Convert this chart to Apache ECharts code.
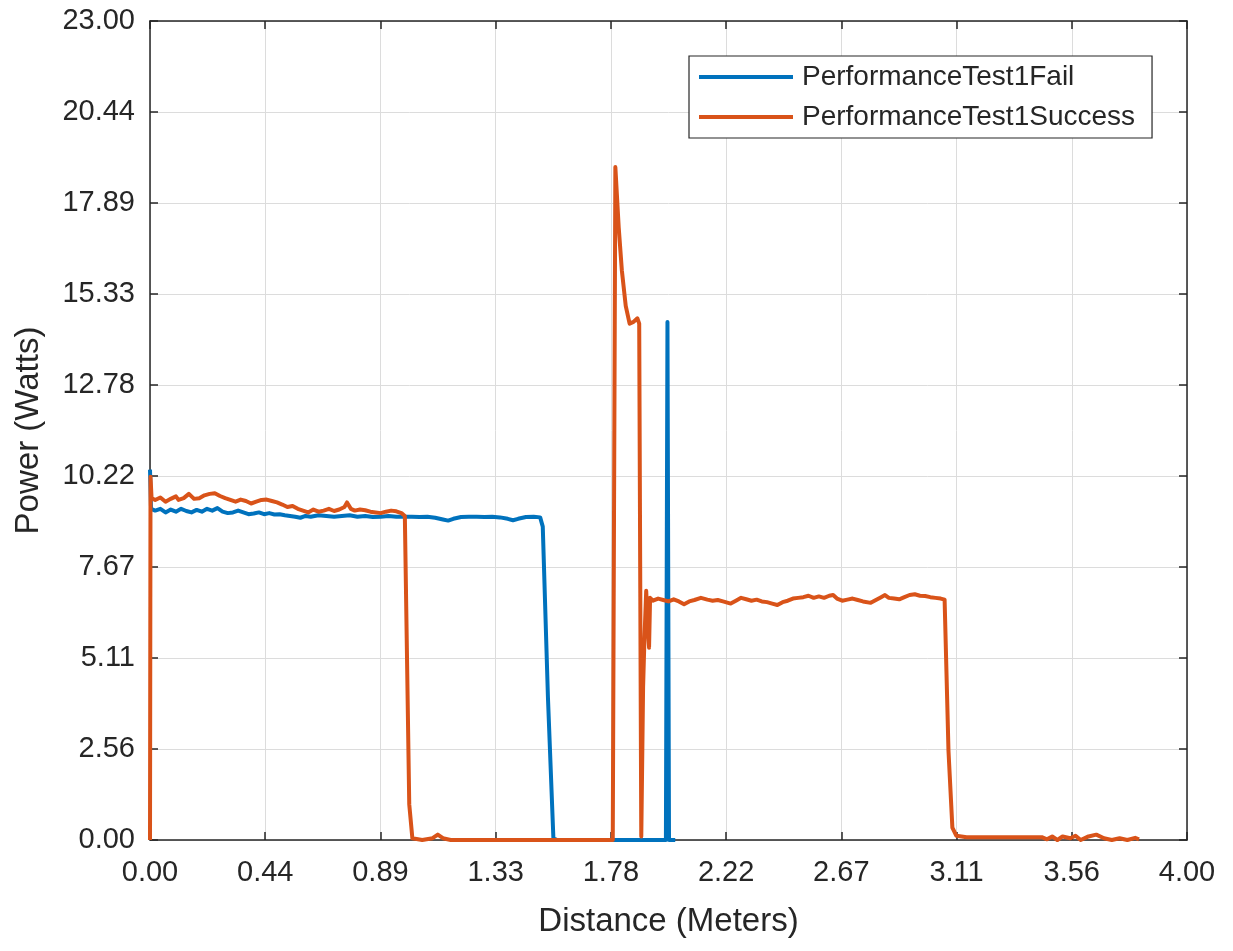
<!DOCTYPE html>
<html>
<head>
<meta charset="utf-8">
<script src="https://cdn.jsdelivr.net/npm/echarts@6/dist/echarts.min.js"></script>
<style>
html,body{margin:0;padding:0;background:#fff;}
#chart{width:1233px;height:951px;}
</style>
</head>
<body>
<div id="chart"></div>
<script>
// Tick values (labels drawn from axis)
const xTickStep = 4 / 9;   // 0.00, 0.44, ... 4.00
const yTickStep = 23 / 9;  // 0.00, 2.56, ... 23.00
const xMax = 4;
const yMax = 23;

// PerformanceTest1Fail
const failDistance = [0.000,0.004,0.02,0.04,0.06,0.08,0.10,0.12,0.14,0.16,0.18,0.20,0.22,0.24,0.26,0.28,0.30,0.32,0.34,0.36,0.38,0.40,0.42,0.44,0.46,0.48,0.50,0.52,0.54,0.56,0.58,0.60,0.62,0.65,0.68,0.71,0.74,0.77,0.80,0.83,0.86,0.89,0.92,0.95,0.98,1.01,1.04,1.07,1.10,1.13,1.15,1.17,1.20,1.23,1.26,1.29,1.32,1.35,1.38,1.40,1.42,1.45,1.48,1.505,1.515,1.535,1.556,1.57,1.70,1.80,1.99,1.996,2.002,2.026];
const failPower    = [10.4,9.3,9.25,9.3,9.2,9.28,9.22,9.3,9.24,9.2,9.27,9.22,9.3,9.25,9.32,9.22,9.18,9.2,9.25,9.2,9.15,9.17,9.2,9.15,9.18,9.14,9.15,9.12,9.1,9.08,9.05,9.1,9.08,9.12,9.1,9.08,9.1,9.12,9.08,9.1,9.07,9.08,9.1,9.08,9.08,9.08,9.07,9.08,9.05,9.0,8.97,9.02,9.07,9.08,9.08,9.07,9.08,9.06,9.02,8.98,9.02,9.07,9.08,9.06,8.8,4.0,0.05,0.0,0.0,0.0,0.0,14.55,0.0,0.0];

// PerformanceTest1Success
const successDistance = [0.000,0.002,0.006,0.02,0.04,0.06,0.08,0.10,0.11,0.13,0.15,0.17,0.19,0.21,0.23,0.25,0.27,0.29,0.31,0.33,0.35,0.37,0.39,0.41,0.43,0.45,0.47,0.49,0.51,0.53,0.55,0.57,0.59,0.61,0.63,0.65,0.67,0.69,0.71,0.73,0.75,0.76,0.775,0.79,0.81,0.83,0.85,0.87,0.89,0.91,0.93,0.95,0.97,0.983,1.00,1.012,1.05,1.09,1.11,1.13,1.16,1.30,1.50,1.60,1.785,1.795,1.808,1.82,1.835,1.85,1.865,1.88,1.887,1.895,1.902,1.907,1.914,1.92,1.925,1.929,1.94,1.96,1.98,2.00,2.02,2.04,2.06,2.08,2.10,2.125,2.15,2.17,2.19,2.21,2.24,2.26,2.28,2.30,2.32,2.34,2.36,2.38,2.40,2.42,2.44,2.46,2.48,2.50,2.52,2.54,2.56,2.58,2.60,2.62,2.635,2.65,2.67,2.69,2.71,2.73,2.75,2.78,2.80,2.82,2.835,2.85,2.87,2.89,2.91,2.93,2.95,2.97,2.99,3.01,3.03,3.05,3.065,3.08,3.095,3.11,3.15,3.20,3.30,3.40,3.44,3.46,3.48,3.50,3.52,3.55,3.57,3.59,3.62,3.65,3.68,3.71,3.74,3.77,3.80,3.815];
const successPower    = [0.0,10.2,9.6,9.55,9.62,9.5,9.58,9.65,9.55,9.6,9.72,9.58,9.6,9.68,9.72,9.74,9.66,9.6,9.55,9.5,9.56,9.52,9.45,9.5,9.55,9.56,9.52,9.48,9.42,9.35,9.38,9.3,9.25,9.2,9.28,9.22,9.25,9.3,9.24,9.28,9.35,9.48,9.3,9.25,9.28,9.26,9.22,9.2,9.18,9.22,9.25,9.23,9.18,9.1,1.0,0.05,0.0,0.05,0.15,0.05,0.0,0.0,0.0,0.0,0.0,18.9,17.2,16.0,15.0,14.5,14.55,14.65,14.5,0.1,4.3,5.6,7.0,6.0,5.4,6.8,6.72,6.78,6.74,6.7,6.76,6.7,6.62,6.7,6.74,6.8,6.75,6.72,6.74,6.7,6.64,6.72,6.8,6.76,6.72,6.75,6.7,6.68,6.64,6.6,6.68,6.72,6.78,6.8,6.82,6.86,6.8,6.84,6.8,6.86,6.88,6.78,6.72,6.75,6.78,6.74,6.7,6.66,6.74,6.82,6.88,6.8,6.78,6.76,6.82,6.88,6.9,6.86,6.85,6.82,6.8,6.78,6.75,2.5,0.35,0.12,0.08,0.08,0.08,0.08,0.08,0.02,0.1,0.0,0.1,0.05,0.12,0.0,0.1,0.15,0.05,0.0,0.05,0.0,0.06,0.02];

const failData = failDistance.map((d, i) => [d, failPower[i]]);
const successData = successDistance.map((d, i) => [d, successPower[i]]);

const FONT = '"Liberation Sans", Arial, Helvetica, sans-serif';
const TXT = '#262626';
const AX = '#262626';
const GRIDC = '#dcdcdc';

const chart = echarts.init(document.getElementById('chart'), null, {renderer: 'canvas'});

function fmt(v, i, n) { return i > n ? '' : v.toFixed(2); }

chart.setOption({
  animation: false,
  backgroundColor: '#ffffff',
  textStyle: {fontFamily: FONT},
  grid: {left: 150, right: 46, top: 21, bottom: 111, containLabel: false},
  legend: {
    orient: 'vertical',
    left: 689, top: 56,
    padding: [7, 17, 7, 10],
    itemGap: 12,
    icon: 'rect',
    itemWidth: 94, itemHeight: 4,
    backgroundColor: '#ffffff',
    borderColor: AX, borderWidth: 1.2, borderRadius: 0,
    textStyle: {fontSize: 28, color: TXT, fontFamily: FONT, padding: [0, 0, 0, 4]},
    data: ['PerformanceTest1Fail', 'PerformanceTest1Success']
  },
  xAxis: [{
    type: 'value', min: 0, max: xMax, interval: xTickStep,
    name: 'Distance (Meters)', nameLocation: 'middle', nameGap: 65,
    nameTextStyle: {fontSize: 33, color: TXT, fontFamily: FONT},
    axisLine: {show: true, onZero: false, lineStyle: {color: AX, width: 1.5}},
    axisTick: {show: true, inside: true, length: 8, lineStyle: {color: AX, width: 1.5}},
    axisLabel: {fontSize: 29, color: TXT, margin: 18, fontFamily: FONT, formatter: (v, i) => fmt(v, i, 9)},
    splitLine: {show: true, lineStyle: {color: GRIDC, width: 1}}
  }, {
    type: 'value', min: 0, max: xMax, interval: xTickStep, position: 'top',
    axisLine: {show: true, onZero: false, lineStyle: {color: AX, width: 1.5}},
    axisTick: {show: true, inside: true, length: 8, lineStyle: {color: AX, width: 1.5}},
    axisLabel: {show: false},
    splitLine: {show: false}
  }],
  yAxis: [{
    type: 'value', min: 0, max: yMax, interval: yTickStep,
    name: 'Power (Watts)', nameLocation: 'middle', nameGap: 105,
    nameTextStyle: {fontSize: 33, color: TXT, fontFamily: FONT},
    axisLine: {show: true, onZero: false, lineStyle: {color: AX, width: 1.5}},
    axisTick: {show: true, inside: true, length: 8, lineStyle: {color: AX, width: 1.5}},
    axisLabel: {fontSize: 29, color: TXT, margin: 15, fontFamily: FONT, formatter: (v, i) => fmt(v, i, 9)},
    splitLine: {show: true, lineStyle: {color: GRIDC, width: 1}}
  }, {
    type: 'value', min: 0, max: yMax, interval: yTickStep, position: 'right',
    axisLine: {show: true, onZero: false, lineStyle: {color: AX, width: 1.5}},
    axisTick: {show: true, inside: true, length: 8, lineStyle: {color: AX, width: 1.5}},
    axisLabel: {show: false},
    splitLine: {show: false}
  }],
  series: [{
    name: 'PerformanceTest1Fail', type: 'line', xAxisIndex: 0, yAxisIndex: 0,
    data: failData, symbol: 'none', showSymbol: false,
    lineStyle: {color: '#0072BD', width: 4, join: 'round'},
    itemStyle: {color: '#0072BD'}, z: 2
  }, {
    name: 'PerformanceTest1Success', type: 'line', xAxisIndex: 0, yAxisIndex: 0,
    data: successData, symbol: 'none', showSymbol: false,
    lineStyle: {color: '#D95319', width: 4, join: 'round'},
    itemStyle: {color: '#D95319'}, z: 3
  }]
});
</script>
</body>
</html>
